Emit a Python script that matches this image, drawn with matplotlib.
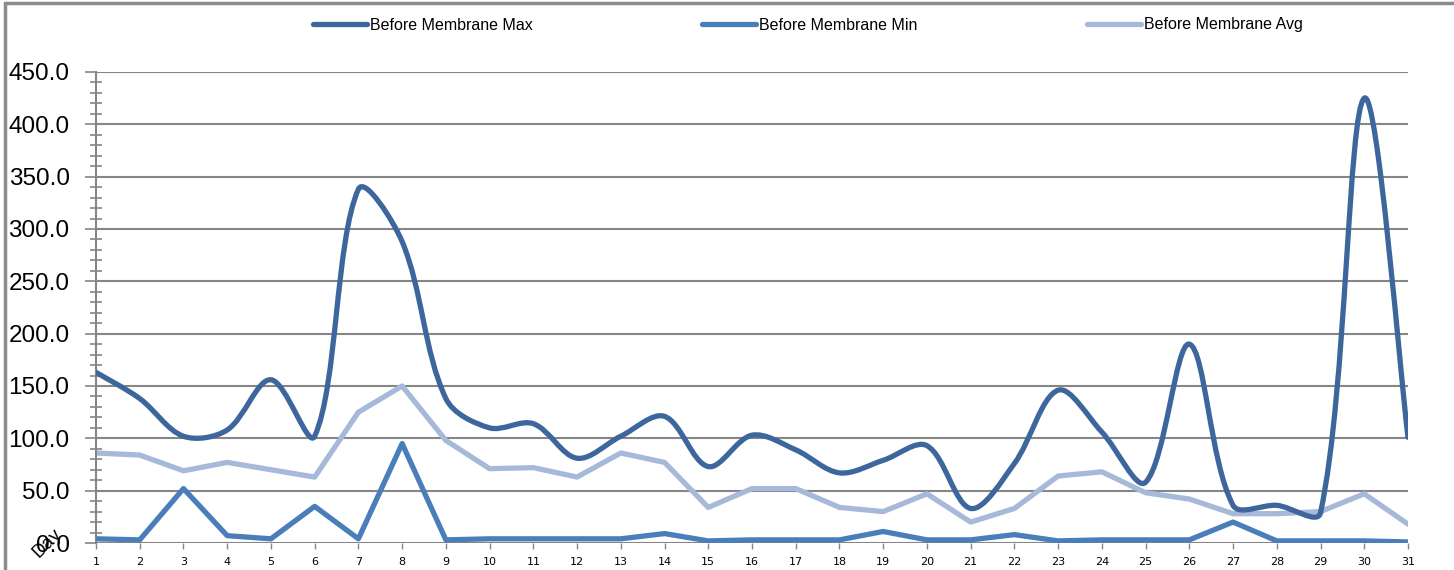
import numpy as np
import matplotlib.pyplot as plt
from matplotlib.path import Path
from matplotlib.patches import PathPatch, Rectangle
from matplotlib.lines import Line2D

days = list(range(1, 32))
before_max = [163, 138, 102, 108, 156, 102, 338, 288, 138, 110, 114, 81, 102, 121, 73,
              103, 89, 67, 79, 93, 33, 76, 146, 106, 58, 190, 36, 36, 29, 425, 101]
before_min = [4, 3, 52, 7, 4, 35, 4, 95, 3, 4, 4, 4, 4, 9, 2,
              3, 3, 3, 11, 3, 3, 8, 2, 3, 3, 3, 20, 2, 2, 2, 1]
before_avg = [86, 84, 69, 77, 70, 63, 125, 150, 98, 71, 72, 63, 86, 77, 34,
              52, 52, 34, 30, 47, 20, 33, 64, 68, 48, 42, 28, 28, 30, 47, 18]
series_names = ['Before Membrane Max', 'Before Membrane Min', 'Before Membrane Avg']

c_max = '#3d679c'
c_min = '#4a7ebb'
c_avg = '#a7b9d8'
grid_c = '#868686'

W, H = 1454, 570
ax_box = [96, 27, 1312, 471]   # left, bottom, width, height in px


def smooth_path(x, y, sx, sy):
    # bezier path like excel's "smoothed line"; sx, sy = px per data unit
    x = np.asarray(x, float)
    y = np.asarray(y, float)
    n = len(x)
    d = np.hypot(np.diff(x) * sx, np.diff(y) * sy)
    verts = [(x[0], y[0])]
    codes = [Path.MOVETO]
    for i in range(n - 1):
        p0 = i - 1 if i > 0 else i
        p3 = i + 2 if i + 2 < n else i + 1
        dp = d[i - 1] if i > 0 else d[i]
        dn = d[i + 1] if i + 2 < n else d[i]
        f1 = d[i] / (dp + d[i]) / 3
        f2 = d[i] / (d[i] + dn) / 3
        c1 = (x[i] + (x[i + 1] - x[p0]) * f1, y[i] + (y[i + 1] - y[p0]) * f1)
        c2 = (x[i + 1] - (x[p3] - x[i]) * f2, y[i + 1] - (y[p3] - y[i]) * f2)
        verts += [c1, c2, (x[i + 1], y[i + 1])]
        codes += [Path.CURVE4] * 3
    return Path(verts, codes)


fig = plt.figure(figsize=(W / 100, H / 100), dpi=100)
ax = fig.add_axes([ax_box[0] / W, ax_box[1] / H, ax_box[2] / W, ax_box[3] / H])

ax.set_xlim(1, 31)
ax.set_ylim(0, 450)
sx = ax_box[2] / 30
sy = ax_box[3] / 450

ax.add_patch(PathPatch(smooth_path(days, before_max, sx, sy), fill=False, color=c_max,
                       lw=3.8, capstyle='round', joinstyle='round', zorder=3))
ax.plot(days, before_min, color=c_min, lw=3.8, solid_capstyle='round', zorder=3)
ax.plot(days, before_avg, color=c_avg, lw=3.8, solid_capstyle='round', zorder=2)

ax.set_xticks(days)
ax.set_xticklabels([str(d) for d in days], fontsize=8)
ax.set_yticks(np.arange(0, 451, 50))
ax.set_yticklabels(['%.1f' % v for v in np.arange(0, 451, 50)], fontsize=17.5,
                   family=['Liberation Sans', 'DejaVu Sans'])
ax.set_yticks(np.arange(0, 451, 10), minor=True)
ax.tick_params(axis='y', which='major', length=8, width=1.2, color=grid_c, pad=11)
ax.tick_params(axis='y', which='minor', length=8, width=1.2, color=grid_c, direction='inout')
ax.tick_params(axis='x', length=4, width=1, color=grid_c, pad=6)
ax.grid(axis='y', which='major', color=grid_c, lw=1.5)
ax.set_axisbelow(True)
for s in ['top', 'right', 'bottom']:
    ax.spines[s].set_visible(False)
ax.spines['left'].set_color(grid_c)
ax.spines['left'].set_linewidth(1.5)

fig.text(47 / W, 1 - 543 / H, 'Day', rotation=45, fontsize=13.5,
         ha='center', va='center', family=['Liberation Sans', 'DejaVu Sans'])

# legend entries placed one by one, as in the original
colors = [c_max, c_min, c_avg]
starts = [305, 694, 1079]
for name, c, x0 in zip(series_names, colors, starts):
    h = Line2D([], [], color=c, lw=3.8, solid_capstyle='round')
    fig.legend([h], [name], loc='center left', bbox_to_anchor=(x0 / W, 1 - 25 / H),
               frameon=False, handlelength=3.4, handletextpad=0.2, borderpad=0,
               prop={'family': ['Liberation Sans', 'DejaVu Sans'], 'size': 11.5})

fig.patches.append(Rectangle((5 / W, -0.1), 1.2, 1 - 3 / H + 0.1, transform=fig.transFigure,
                             fill=False, edgecolor='#8c8c8c', lw=2.5))

fig.savefig('out.png', dpi=100)
